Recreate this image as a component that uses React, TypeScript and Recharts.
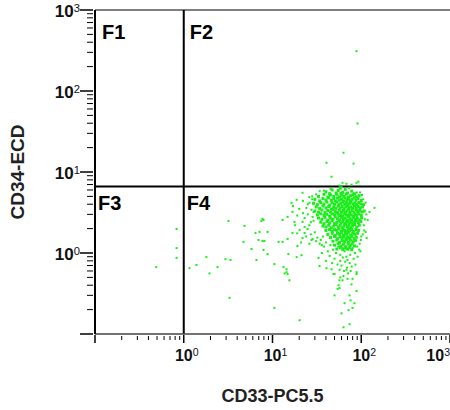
import { ScatterChart, Scatter, XAxis, YAxis, ReferenceLine, ReferenceArea } from 'recharts'

// log decade ticks, 10^-1 .. 10^3
const axisTicks = [
  0.1, 0.2, 0.3, 0.4, 0.5, 0.6, 0.7, 0.8, 0.9,
  1, 2, 3, 4, 5, 6, 7, 8, 9,
  10, 20, 30, 40, 50, 60, 70, 80, 90,
  100, 200, 300, 400, 500, 600, 700, 800, 900,
  1000,
]
const labelledTicks = [1, 10, 100, 1000]

const gateCD33 = 1
const gateCD34 = 6.6
const quadrantNames = ['F1', 'F2', 'F3', 'F4']

// [CD33, CD34] events, dense population
const coreCells: [number, number][] = [
  [40, 5.7], [47, 6.0], [52, 5.5], [55, 5.9], [62, 5.6], [66, 6.1], [70, 5.5], [78, 5.8], [84, 5.4], [58, 6.3],
  [33, 5.0], [38, 5.3], [42, 4.9], [45, 5.2], [49, 5.0], [53, 5.3], [57, 4.95], [60, 5.2], [64, 5.0], [68, 5.35],
  [72, 4.9], [76, 5.1], [81, 5.25], [88, 4.95], [95, 5.1], [44, 5.4], [59, 5.45],
  [30, 4.6], [34, 4.4], [37, 4.7], [40, 4.5], [43, 4.8], [46, 4.45], [49, 4.7], [51, 4.4], [54, 4.75], [57, 4.5],
  [60, 4.65], [63, 4.4], [66, 4.8], [69, 4.55], [72, 4.7], [75, 4.4], [79, 4.6], [83, 4.8], [87, 4.5], [92, 4.7], [100, 4.45],
  [29, 4.1], [32, 3.95], [35, 4.2], [38, 4.0], [41, 4.25], [44, 3.9], [47, 4.15], [50, 4.0], [53, 4.25], [56, 3.95],
  [59, 4.1], [62, 4.3], [65, 4.0], [68, 4.2], [71, 3.9], [74, 4.1], [77, 4.25], [81, 4.0], [85, 4.15], [89, 3.95],
  [94, 4.2], [99, 4.05], [106, 3.95],
  [31, 3.7], [34, 3.55], [37, 3.8], [40, 3.6], [43, 3.75], [46, 3.5], [49, 3.7], [52, 3.55], [55, 3.8], [58, 3.6],
  [61, 3.75], [64, 3.5], [67, 3.7], [70, 3.85], [73, 3.55], [76, 3.7], [80, 3.6], [84, 3.8], [88, 3.55], [92, 3.75],
  [97, 3.6], [103, 3.7],
  [30, 3.3], [33, 3.2], [36, 3.4], [39, 3.15], [42, 3.35], [45, 3.2], [48, 3.45], [51, 3.25], [54, 3.15], [57, 3.4],
  [60, 3.2], [63, 3.35], [66, 3.15], [69, 3.3], [72, 3.45], [75, 3.2], [79, 3.35], [83, 3.15], [87, 3.4], [91, 3.25],
  [96, 3.35], [102, 3.2], [108, 3.3],
  [32, 2.95], [35, 3.05], [38, 2.9], [41, 3.0], [44, 2.85], [47, 3.05], [50, 2.95], [53, 3.1], [56, 2.9], [59, 3.0],
  [62, 2.85], [65, 3.05], [68, 2.95], [71, 2.9], [74, 3.05], [77, 2.95], [81, 2.85], [85, 3.0], [89, 2.9], [94, 3.05], [100, 2.9],
  [33, 2.7], [36, 2.6], [39, 2.75], [42, 2.55], [45, 2.7], [48, 2.6], [51, 2.8], [54, 2.65], [57, 2.55], [60, 2.75],
  [63, 2.6], [66, 2.7], [69, 2.55], [72, 2.8], [75, 2.65], [78, 2.55], [82, 2.75], [86, 2.6], [90, 2.7], [95, 2.55], [101, 2.7],
  [35, 2.4], [38, 2.3], [41, 2.45], [44, 2.35], [47, 2.5], [50, 2.3], [53, 2.4], [56, 2.5], [59, 2.35], [62, 2.45],
  [65, 2.3], [68, 2.4], [71, 2.5], [74, 2.35], [77, 2.45], [80, 2.3], [84, 2.4], [88, 2.5], [93, 2.35], [99, 2.45],
  [37, 2.15], [40, 2.1], [43, 2.2], [46, 2.05], [49, 2.15], [52, 2.25], [55, 2.1], [58, 2.2], [61, 2.05], [64, 2.15],
  [67, 2.25], [70, 2.1], [73, 2.2], [76, 2.05], [80, 2.15], [84, 2.25], [89, 2.1], [95, 2.2],
  [40, 1.9], [44, 1.95], [47, 1.85], [50, 1.95], [53, 1.9], [56, 2.0], [59, 1.85], [62, 1.95], [65, 1.9], [68, 1.85],
  [71, 2.0], [74, 1.9], [78, 1.95], [82, 1.85], [87, 1.95], [93, 1.9],
  [42, 1.7], [47, 1.75], [51, 1.65], [54, 1.75], [57, 1.7], [60, 1.8], [63, 1.65], [66, 1.75], [69, 1.7], [72, 1.8],
  [76, 1.65], [80, 1.75], [85, 1.7], [91, 1.75],
  [45, 1.55], [50, 1.6], [54, 1.5], [58, 1.58], [61, 1.52], [64, 1.6], [67, 1.5], [70, 1.57], [74, 1.52], [78, 1.6],
  [83, 1.5], [88, 1.56],
  [48, 1.4], [53, 1.45], [57, 1.35], [61, 1.42], [65, 1.38], [68, 1.46], [72, 1.36], [76, 1.44], [81, 1.38], [86, 1.42],
  [50, 1.25], [55, 1.3], [59, 1.22], [63, 1.28], [67, 1.2], [71, 1.3], [75, 1.24], [79, 1.3], [84, 1.22],
  [53, 1.12], [58, 1.16], [62, 1.1], [66, 1.15], [70, 1.12], [74, 1.17], [78, 1.1],
]

// lower tail of the population
const tailCells: [number, number][] = [
  [38, 1.2], [42, 1.05], [45, 1.25], [48, 1.1], [52, 1.0], [55, 1.2], [58, 0.95], [62, 1.15], [65, 1.05], [68, 0.9],
  [72, 1.1], [75, 0.95], [80, 1.15], [85, 1.0], [90, 1.2], [95, 1.1], [50, 0.85], [58, 0.8], [62, 0.88], [66, 0.78],
  [70, 0.82], [74, 0.75], [54, 0.72], [60, 0.7], [78, 0.68], [82, 0.85], [64, 0.6], [69, 0.66], [57, 0.62], [86, 0.72],
  [44, 0.92], [40, 0.8], [36, 1.0], [47, 0.75], [91, 0.9], [98, 1.05], [63, 0.52], [71, 0.56], [58, 0.5], [76, 0.6],
  [33.9, 0.69], [40.6, 0.65], [46.3, 0.63], [33, 0.87], [48.7, 0.55], [50, 0.55], [56.9, 0.46], [61.5, 0.46], [70, 0.48],
  [79.8, 0.48], [77.7, 0.41], [55.5, 0.4], [56.9, 0.37], [54.1, 0.36], [88.5, 0.34], [50, 0.3], [73.8, 0.3], [75.7, 0.26],
  [84, 0.24], [64.8, 0.24], [79.8, 0.21], [71.9, 0.197], [60, 0.18], [73.8, 0.132], [63.1, 0.121], [88.5, 0.58],
  [68.2, 0.62], [88.5, 0.55],
]

// sparse events around and left of the population
const sparseCells: [number, number][] = [
  [0.83, 1.98], [0.83, 1.15], [0.83, 0.87], [0.49, 0.67], [3.19, 2.49], [4.83, 2.16], [7.71, 2.64], [7.5, 2.49],
  [7.92, 2.56], [6.43, 1.77], [7.13, 1.82], [8.79, 1.82], [4.71, 1.37], [6.95, 1.45], [7.71, 1.41], [8.1, 1.41],
  [5.8, 1.12], [7.92, 1.09], [8.79, 0.97], [11.7, 1.37], [1.8, 0.89], [2.95, 0.84], [3.36, 0.82], [6.6, 0.82],
  [10.5, 0.73], [1.39, 0.71], [1.16, 0.65], [2.4, 0.67], [1.95, 0.56], [3.28, 0.28], [10.5, 0.21],
  [13.7, 0.56], [13.3, 0.67], [15.5, 0.46], [14.8, 0.55], [18.7, 0.89], [21.2, 0.94], [13, 2.56], [14.8, 2.79],
  [16.4, 4.17], [18.7, 4.54], [21.8, 5.54], [13, 1.37], [20.2, 1.93], [17.7, 2.42], [21.8, 2.42], [23, 1.77],
  [27.5, 1.45], [28.3, 1.49], [16.8, 3.22], [16.8, 1.77], [14.8, 1.49], [21.8, 1.53], [19.1, 1.22], [24.8, 1.98],
  [28.3, 2.79], [27.5, 3.41], [26.1, 4.17], [15.1, 0.97], [14.4, 0.63], [14.4, 0.58], [20.2, 0.148],
  [124, 3.22], [141, 3.61], [118, 2.56], [112, 1.82], [115, 1.53],
  [25, 3.0], [26, 2.2], [24, 3.6], [27, 1.7], [29, 2.5], [23, 2.7], [28, 4.6], [26, 4.9], [31, 1.4], [34, 1.3],
  [36, 1.25], [110, 2.6], [107, 2.2], [104, 1.7], [99, 1.45], [112, 4.2], [96, 1.3], [38, 5.9], [45, 6.2], [73, 6.3], [89, 5.6],
  [17, 3.8], [19, 2.9], [20, 3.5], [22, 4.4], [23, 2.1], [24, 1.6], [18, 2.2], [21, 1.35], [25, 4.0], [27, 2.4],
  [29, 3.2], [30, 1.8], [26, 1.3], [31, 5.3], [34, 5.8], [28, 5.0], [32, 1.55], [22, 3.1], [19, 1.75], [35, 1.45],
  [37, 1.6], [40, 1.35], [105, 4.6], [102, 5.2], [97, 5.6], [114, 3.0], [108, 1.9], [100, 1.6],
]

// events above the CD34 gate
const highCells: [number, number][] = [
  [88.5, 310], [90.8, 39.7], [63.1, 17.3], [40.6, 13], [81.9, 12.7], [46.3, 8.74], [61.5, 7.36], [68.2, 7.16],
  [88.5, 7.36], [93, 7.6], [77.7, 6.96], [56.9, 6.8], [60, 6.5],
]

const toPoints = (cells: [number, number][]) => cells.map(([x, y]) => ({ x, y }))

const FONT = '"Liberation Sans", Arial, sans-serif'
const DOT = '#18ee18'
const CHART_W = 450

const isLabelled = (v: number) => labelledTicks.includes(v)
const isDecade = (v: number) => Math.abs(Math.log10(v) - Math.round(Math.log10(v))) < 1e-9

function PowerLabel({ x, y, exp, anchor, size }: any) {
  return (
    <text x={x} y={y} textAnchor={anchor} fontFamily={FONT} fontWeight="bold" fontSize={size} fill="#111">
      <tspan>10</tspan>
      <tspan dy={-5} fontSize={size * 0.66} fontWeight="normal">{exp}</tspan>
    </text>
  )
}

function XTick({ x, y, payload }: any) {
  const v = payload.value
  const major = isDecade(v)
  // the last label is pushed inside the picture, as in the original
  const clamp = x + 16 > CHART_W
  return (
    <g>
      <line x1={x} x2={x} y1={y + (major ? 1 : 2)} y2={y + (major ? 9 : 6)} stroke="#000" strokeWidth={major ? 1.5 : 1} />
      {isLabelled(v) && (
        <PowerLabel
          x={clamp ? CHART_W : x + 3}
          y={y + 27}
          exp={Math.round(Math.log10(v))}
          anchor={clamp ? 'end' : 'middle'}
          size={16}
        />
      )}
    </g>
  )
}

function YTick({ x, y, payload }: any) {
  const v = payload.value
  const major = isDecade(v)
  return (
    <g>
      <line x1={x - (major ? 15 : 8)} x2={x - 2} y1={y} y2={y} stroke="#000" strokeWidth={major ? 1.5 : 1} />
      {isLabelled(v) && (
        <PowerLabel x={x - 15} y={y + 7} exp={Math.round(Math.log10(v))} anchor="end" size={17} />
      )}
    </g>
  )
}

const dotShape = (size: number) => (p: any) => (
  <rect x={p.cx - size / 2} y={p.cy - size / 2} width={size} height={size} fill={DOT} />
)

const quadrants = [
  { name: quadrantNames[0], x1: 0.1, x2: gateCD33, y1: gateCD34, y2: 1000, dx: 7, dy: 29 },
  { name: quadrantNames[1], x1: gateCD33, x2: 1000, y1: gateCD34, y2: 1000, dx: 6, dy: 29 },
  { name: quadrantNames[2], x1: 0.1, x2: gateCD33, y1: 0.1, y2: gateCD34, dx: 3, dy: 23 },
  { name: quadrantNames[3], x1: gateCD33, x2: 1000, y1: 0.1, y2: gateCD34, dx: 3, dy: 23 },
]

export default function App() {
  return (
    <div style={{ position: 'absolute', left: 0, top: 0, width: 450, height: 410, background: '#fff' }}>
      <ScatterChart width={CHART_W} height={410} margin={{ top: 10, right: 0, bottom: 0, left: 0 }}>
        <XAxis
          type="number"
          dataKey="x"
          scale="log"
          domain={[0.1, 1000]}
          ticks={axisTicks}
          interval={0}
          height={76}
          tickSize={0}
          tickMargin={0}
          tick={<XTick />}
          axisLine={{ stroke: '#444', strokeWidth: 1.5 }}
          allowDataOverflow
          label={({ viewBox }: any) => (
            <text
              x={viewBox.x + viewBox.width / 2}
              y={viewBox.y + 68}
              textAnchor="middle"
              fontFamily={FONT}
              fontWeight="bold"
              fontSize={18}
              fill="#222"
            >
              CD33-PC5.5
            </text>
          )}
        />
        <YAxis
          type="number"
          dataKey="y"
          scale="log"
          domain={[0.1, 1000]}
          ticks={axisTicks}
          interval={0}
          width={95}
          tickSize={0}
          tickMargin={0}
          tick={<YTick />}
          axisLine={{ stroke: '#000', strokeWidth: 2 }}
          allowDataOverflow
          label={({ viewBox }: any) => {
            const cx = 24
            const cy = viewBox.y + viewBox.height / 2
            return (
              <text
                x={cx}
                y={cy}
                transform={`rotate(-90, ${cx}, ${cy})`}
                textAnchor="middle"
                fontFamily={FONT}
                fontWeight="bold"
                fontSize={19}
                fill="#222"
              >
                CD34-ECD
              </text>
            )
          }}
        />
        <ReferenceLine y={1000} stroke="#555" strokeWidth={1.5} />
        {quadrants.map((q) => (
          <ReferenceArea
            key={q.name}
            x1={q.x1}
            x2={q.x2}
            y1={q.y1}
            y2={q.y2}
            fillOpacity={0}
            strokeOpacity={0}
            label={({ viewBox }: any) => (
              <text
                x={viewBox.x + q.dx}
                y={viewBox.y + q.dy}
                fontFamily={FONT}
                fontWeight="bold"
                fontSize={20}
                fill="#000"
              >
                {q.name}
              </text>
            )}
          />
        ))}
        <Scatter data={toPoints(sparseCells)} shape={dotShape(2)} isAnimationActive={false} />
        <Scatter data={toPoints(tailCells)} shape={dotShape(2)} isAnimationActive={false} />
        <Scatter data={toPoints(highCells)} shape={dotShape(2)} isAnimationActive={false} />
        <Scatter data={toPoints(coreCells)} shape={dotShape(3)} isAnimationActive={false} />
        <ReferenceLine x={gateCD33} stroke="#000" strokeWidth={2} />
        <ReferenceLine y={gateCD34} stroke="#000" strokeWidth={2} />
      </ScatterChart>
    </div>
  )
}
